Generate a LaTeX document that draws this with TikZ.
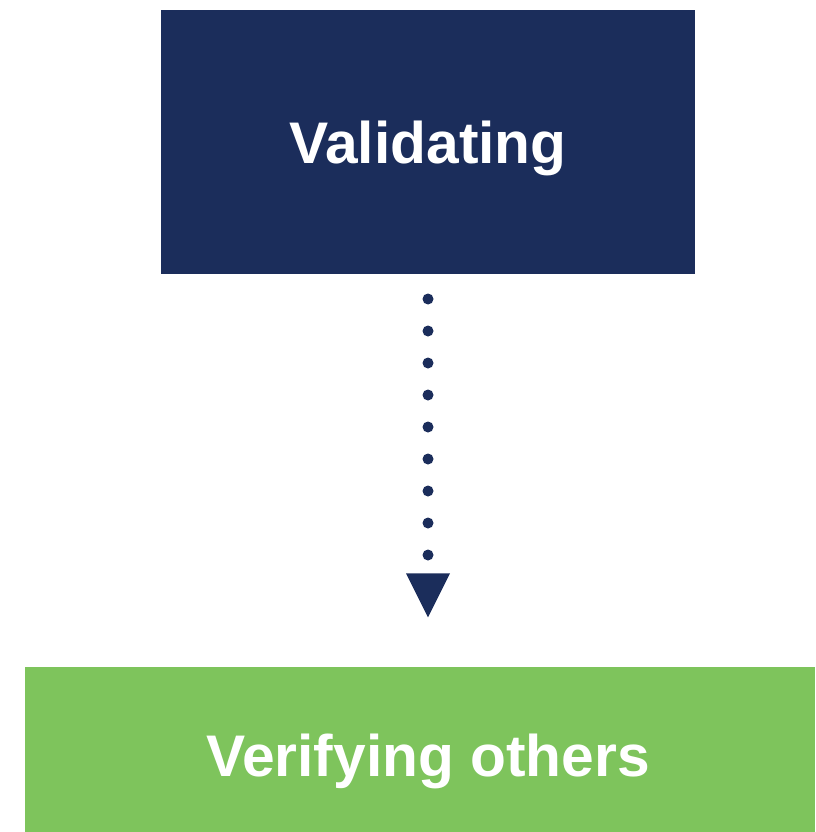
\documentclass[tikz,border=0pt]{standalone}
\usepackage{fontspec}
\setmainfont{Liberation Sans}
\usetikzlibrary{arrows.meta}
\definecolor{navy}{HTML}{1B2D5B}
\definecolor{leaf}{HTML}{7EC45C}
\begin{document}
\begin{tikzpicture}[x=1pt,y=-1pt,
  boxstyle/.style={inner sep=0pt,outer sep=0pt},
  labelstyle/.style={inner sep=0pt,outer sep=0pt,anchor=base,text=white,font=\fontsize{58.7}{60}\selectfont\bfseries},
  dotline/.style={draw=navy,line width=11pt,line cap=round,dash pattern=on 0pt off 32pt,
    -{Triangle[width=44pt,length=44pt,line width=0pt,fill=navy]}}]
\useasboundingbox (0,0) rectangle (815,832);
\node[boxstyle,fill=navy,minimum width=534pt,minimum height=264pt] (top) at (428,142) {};
\node[labelstyle] (toptext) at (428,163.5) {Validating};
\node[boxstyle,fill=leaf,minimum width=790pt,minimum height=165pt] (bot) at (420,749.5) {};
\node[labelstyle] (bottext) at (428,776) {Verifying others};
\draw[dotline,shorten <=25pt,shorten >=49.7pt] (top.south -| 428,0) -- (bot.north -| 428,0);
\end{tikzpicture}
\end{document}
